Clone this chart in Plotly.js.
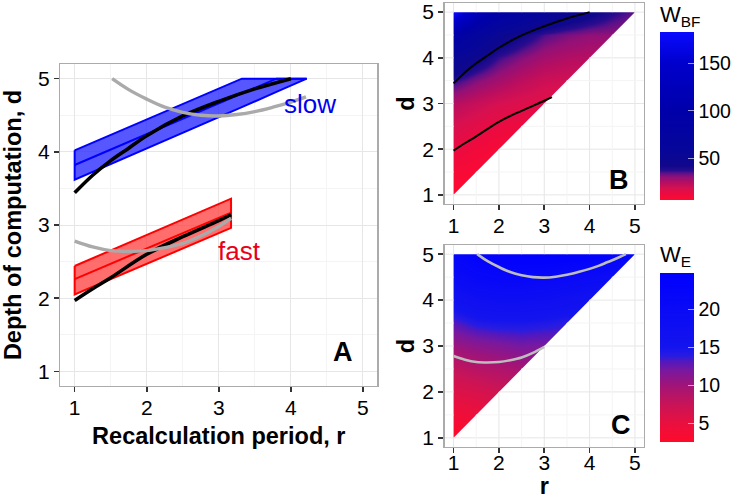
<!DOCTYPE html>
<html><head><meta charset="utf-8">
<script src="https://cdn.plot.ly/plotly-3.0.1.min.js"></script>
<style>html,body{margin:0;padding:0;background:#fff}</style>
</head><body><div id="chart" style="width:737px;height:500px"></div>
<script>
// ---------- data ----------
const majorTicks = [1, 2, 3, 4, 5];
const minorTicks = [1.5, 2.5, 3.5, 4.5];

// Panel A: bands (parameter ranges) for slow and fast
const slowBandR = [1, 3.32, 3.8, 4.22];
const slowBandUpper = [4.02, 5, 5, 5];
const slowBandLower = [3.62, 4.61, 4.82, 5];
const slowBandMid = [3.82, 4.80, 5, 5];
const fastBandR = [1, 3.17];
const fastBandUpper = [2.44, 3.36];
const fastBandLower = [2.05, 2.96];
const fastBandMid = [2.26, 3.17];

// optimal depth (black) and efficiency optimum (gray)
const optSlowR = [1, 1.25, 1.5, 1.75, 2, 2.5, 3, 3.5, 4];
const optSlowD = [3.44, 3.68, 3.88, 4.05, 4.22, 4.49, 4.69, 4.86, 5.0];
const optFastR = [1, 1.25, 1.5, 2, 2.5, 3, 3.17];
const optFastD = [1.97, 2.13, 2.28, 2.6, 2.84, 3.06, 3.14];
const effSlowR = [1.52, 1.75, 2, 2.25, 2.5, 2.75, 3, 3.25, 3.5, 3.75, 4, 4.21, 4.4, 4.6, 4.8];
const effSlowD = [5.0, 4.85, 4.72, 4.61, 4.54, 4.5, 4.49, 4.51, 4.55, 4.61, 4.68, 4.75, 4.83, 4.91, 5.0];
const effFastR = [1, 1.25, 1.5, 1.75, 2, 2.25, 2.5, 2.75, 3, 3.17];
const effFastD = [2.78, 2.7, 2.65, 2.64, 2.65, 2.69, 2.75, 2.85, 2.98, 3.09];

// Panels B and C: grids (rows = d, columns = r)
const gridR = [1, 1.5, 2, 2.5, 3, 3.5, 4, 4.5, 5];
const gridD = [1, 1.5, 2, 2.5, 3, 3.5, 4, 4.5, 5];
const wBF = [
  [6, 5.8, 5.6, 5.4, 5.2, 5, 5, 5, 5],
  [9, 8, 7.5, 7, 6.8, 6.5, 6.3, 6.1, 6],
  [13, 11, 9, 8.5, 8, 7.6, 7.3, 7, 6.8],
  [18, 15, 13, 12, 11, 10.5, 10, 9.5, 9],
  [24, 21, 18, 16.5, 15, 14, 13.5, 13, 12.5],
  [37, 31, 27, 23, 20, 19, 18, 17, 16],
  [55, 45, 36, 31, 27, 25, 24, 23, 22],
  [95, 68, 50, 42, 35, 32, 30, 30, 29],
  [183, 125, 95, 75, 60, 52, 45, 38, 34]
];
const wE = [
  [2.5, 2.7, 3.0, 3.3, 3.6, 3.9, 4.2, 4.5, 4.8],
  [4.0, 4.5, 4.9, 5.3, 5.6, 5.9, 6.2, 6.5, 6.8],
  [5.8, 6.3, 7.0, 7.4, 7.8, 8.2, 8.6, 9.0, 9.3],
  [7.8, 8.5, 9.0, 9.5, 10.0, 10.4, 10.8, 11.2, 11.5],
  [10.2, 11.0, 11.5, 12.0, 11.8, 12.2, 12.6, 13.0, 13.3],
  [13.0, 14.2, 14.6, 14.6, 14.3, 13.8, 14.5, 15.0, 15.5],
  [16.0, 17.5, 18.0, 18.0, 17.7, 17.0, 16.0, 16.5, 17.0],
  [19.5, 21.0, 21.5, 21.5, 21.0, 20.5, 19.8, 19.0, 19.5],
  [22.0, 23.5, 24.3, 24.6, 24.8, 24.5, 24.0, 23.3, 22.5]
];
const wbfTicks = [50, 100, 150];
const weTicks = [5, 10, 15, 20];

// ---------- styling ----------
const FONT = 'Liberation Sans, Arial, sans-serif';
const AX_RANGE = [0.8, 5.2];
const GRID_MAJOR = '#e6e6e6';
const GRID_MINOR = '#f4f4f4';
const BORDER = '#ababab';
const TICK_SIZE = 21;

const scaleBF = [
  [0, '#ff0a30'], [0.034, '#ee0a3e'], [0.068, '#d81050'], [0.102, '#b80e60'],
  [0.136, '#921078'], [0.158, '#601088'], [0.175, '#2a0c8e'], [0.203, '#10088c'],
  [0.305, '#06069a'], [0.531, '#0000aa'], [0.814, '#0000cc'], [1, '#0a0aff']
];
const scaleE = [
  [0, '#ff0a2a'], [0.112, '#e8103f'], [0.224, '#c81458'], [0.336, '#a01478'],
  [0.426, '#7818a0'], [0.48, '#5018c0'], [0.507, '#2a1ce0'], [0.56, '#1414ee'],
  [0.785, '#0a0af6'], [1, '#0000ff']
];

function polygon(r, upper, lower) {
  return { x: r.concat(r.slice().reverse()).concat([r[0]]),
           y: upper.concat(lower.slice().reverse()).concat([upper[0]]) };
}

function axisCommon(extra) {
  return Object.assign({
    range: AX_RANGE, tickvals: majorTicks, ticks: 'outside', ticklen: 5, tickwidth: 1.6,
    tickcolor: '#333', showline: true, mirror: true, linecolor: BORDER, linewidth: 1.3,
    showgrid: true, gridcolor: GRID_MAJOR, gridwidth: 1, zeroline: false,
    minor: { tickvals: minorTicks, showgrid: true, gridcolor: GRID_MINOR, gridwidth: 1, ticks: '' },
    tickfont: { family: FONT, size: TICK_SIZE, color: '#000' }, fixedrange: true
  }, extra);
}

// mask of the region outside the d >= r triangle, plus gridlines redrawn there
function maskTraces(xa, ya) {
  const lo = AX_RANGE[0] - 0.1, hi = AX_RANGE[1] + 0.1;
  const r0 = gridR[0], r1 = gridR[gridR.length - 1];
  const d0 = gridD[0], d1 = gridD[gridD.length - 1];
  const base = { type: 'scatter', mode: 'lines', fill: 'toself', fillcolor: '#ffffff',
                 line: { width: 0, color: 'rgba(0,0,0,0)' }, hoverinfo: 'skip', showlegend: false,
                 xaxis: xa, yaxis: ya };
  const p1 = Object.assign({}, base, { x: [lo, r0, r0, hi, hi, lo, lo], y: [lo, lo, d1, d1, hi, hi, lo] });
  const p2 = Object.assign({}, base, { x: [lo, hi, hi, r1, r0, lo, lo], y: [lo, lo, hi, d1, d0, d0, lo] });
  const out = [p1, p2];
  [[majorTicks, GRID_MAJOR], [minorTicks, GRID_MINOR]].forEach(([vals, col]) => {
    const xs = [], ys = [];
    vals.forEach(c => {
      xs.push(c, c, null, c, c, null, c, AX_RANGE[1], null, AX_RANGE[0], r0, null);
      ys.push(AX_RANGE[0], c, null, d1, AX_RANGE[1], null, c, c, null, c, c, null);
    });
    out.push({ type: 'scatter', mode: 'lines', x: xs, y: ys, line: { color: col, width: 1 },
               hoverinfo: 'skip', showlegend: false, xaxis: xa, yaxis: ya, connectgaps: false });
  });
  return out;
}

function colorbar(yCenter, len, vals) {
  return { x: 668 / 737, xanchor: 'left', y: yCenter, yanchor: 'middle', len: len,
    thickness: 34, outlinewidth: 0, tickvals: vals, ticks: 'inside', ticklen: 6,
    tickcolor: 'rgba(255,255,255,0.6)', tickfont: { family: FONT, size: 19.5, color: '#000' },
    xpad: 0, ypad: 0 };
}

const slowPoly = polygon(slowBandR, slowBandUpper, slowBandLower);
const fastPoly = polygon(fastBandR, fastBandUpper, fastBandLower);

const traces = [
  { type: 'scatter', mode: 'lines', x: slowPoly.x, y: slowPoly.y, fill: 'toself',
    fillcolor: 'rgba(40,40,255,0.78)', line: { color: '#0000ff', width: 2 } },
  { type: 'scatter', mode: 'lines', x: slowBandR, y: slowBandMid, line: { color: '#0000ff', width: 2 } },
  { type: 'scatter', mode: 'lines', x: fastPoly.x, y: fastPoly.y, fill: 'toself',
    fillcolor: 'rgba(255,60,60,0.75)', line: { color: '#ff0000', width: 2 } },
  { type: 'scatter', mode: 'lines', x: fastBandR, y: fastBandMid, line: { color: '#ff0000', width: 2 } },
  { type: 'scatter', mode: 'lines', x: optSlowR, y: optSlowD, line: { color: '#000', width: 3.6, shape: 'spline' } },
  { type: 'scatter', mode: 'lines', x: optFastR, y: optFastD, line: { color: '#000', width: 3.6, shape: 'spline' } },
  { type: 'scatter', mode: 'lines', x: effSlowR.slice(0, 12), y: effSlowD.slice(0, 12), line: { color: '#aaaaaa', width: 3.4, shape: 'spline' } },
  { type: 'scatter', mode: 'lines', x: effFastR, y: effFastD, line: { color: '#aaaaaa', width: 3.4, shape: 'spline' } },

  // Panel B
  { type: 'heatmap', x: gridR, y: gridD, z: wBF, zsmooth: 'best', xaxis: 'x2', yaxis: 'y2',
    zmin: 6, zmax: 183, colorscale: scaleBF, hoverinfo: 'skip',
    colorbar: colorbar(1 - 116 / 500, 168 / 500, wbfTicks) },
  ...maskTraces('x2', 'y2'),
  { type: 'scatter', mode: 'lines', x: optSlowR, y: optSlowD, xaxis: 'x2', yaxis: 'y2', line: { color: '#000', width: 2, shape: 'spline' } },
  { type: 'scatter', mode: 'lines', x: optFastR, y: optFastD, xaxis: 'x2', yaxis: 'y2', line: { color: '#000', width: 2, shape: 'spline' } },

  // Panel C
  { type: 'heatmap', x: gridR, y: gridD, z: wE, zsmooth: 'best', xaxis: 'x3', yaxis: 'y3',
    zmin: 2.5, zmax: 24.8, colorscale: scaleE, hoverinfo: 'skip',
    colorbar: colorbar(1 - 357.5 / 500, 169 / 500, weTicks) },
  ...maskTraces('x3', 'y3'),
  { type: 'scatter', mode: 'lines', x: effSlowR, y: effSlowD, xaxis: 'x3', yaxis: 'y3', line: { color: '#bdbdbd', width: 2.6, shape: 'spline' } },
  { type: 'scatter', mode: 'lines', x: effFastR.slice(0, 9), y: effFastD.slice(0, 9), xaxis: 'x3', yaxis: 'y3', line: { color: '#bdbdbd', width: 2.6, shape: 'spline' } }
];
traces.forEach(t => { if (t.showlegend === undefined) t.showlegend = false; if (!t.hoverinfo) t.hoverinfo = 'skip'; });

const titleFont = { family: FONT, size: 23.5, color: '#000' };
const layout = {
  width: 737, height: 500, margin: { l: 0, r: 0, t: 0, b: 0 },
  paper_bgcolor: '#fff', plot_bgcolor: '#fff', hovermode: false, showlegend: false,
  xaxis: axisCommon({ domain: [61 / 737, 382 / 737], anchor: 'y', ticklabelstandoff: -3,
    title: { text: '<b>Recalculation period, r</b>', font: titleFont, standoff: 10 } }),
  yaxis: axisCommon({ domain: [1 - 386 / 500, 1 - 64 / 500], anchor: 'x',
    title: { text: '<b>Depth of computation, d</b>', font: titleFont, standoff: 12 } }),
  xaxis2: axisCommon({ domain: [450 / 737, 652 / 737], anchor: 'y2', ticklabelstandoff: -3 }),
  yaxis2: axisCommon({ domain: [1 - 204 / 500, 1 - 3 / 500], anchor: 'x2',
    title: { text: '<b>d</b>', font: titleFont, standoff: 1 } }),
  xaxis3: axisCommon({ domain: [450 / 737, 652 / 737], anchor: 'y3', ticklabelstandoff: -9,
    title: { text: '<b>r</b>', font: titleFont, standoff: 5 } }),
  yaxis3: axisCommon({ domain: [1 - 447 / 500, 1 - 245 / 500], anchor: 'x3',
    title: { text: '<b>d</b>', font: titleFont, standoff: 1 } }),
  annotations: [
    { xref: 'x', yref: 'y', x: 4.27, y: 4.65, text: 'slow', showarrow: false, font: { family: FONT, size: 26, color: '#0000f0' } },
    { xref: 'x', yref: 'y', x: 3.29, y: 2.64, text: 'fast', showarrow: false, font: { family: FONT, size: 26, color: '#e8001a' } },
    { xref: 'x', yref: 'y', x: 4.72, y: 1.26, text: '<b>A</b>', showarrow: false, font: { family: FONT, size: 27, color: '#000' } },
    { xref: 'x2', yref: 'y2', x: 4.64, y: 1.32, text: '<b>B</b>', showarrow: false, font: { family: FONT, size: 27, color: '#000' } },
    { xref: 'x3', yref: 'y3', x: 4.69, y: 1.27, text: '<b>C</b>', showarrow: false, font: { family: FONT, size: 27, color: '#000' } },
    { xref: 'paper', yref: 'paper', x: 666 / 737, y: 1 - 16 / 500, xanchor: 'left', yanchor: 'middle',
      text: 'W<sub>BF</sub>', showarrow: false, font: { family: FONT, size: 22, color: '#000' } },
    { xref: 'paper', yref: 'paper', x: 666 / 737, y: 1 - 256 / 500, xanchor: 'left', yanchor: 'middle',
      text: 'W<sub>E</sub>', showarrow: false, font: { family: FONT, size: 22, color: '#000' } }
  ]
};

Plotly.newPlot('chart', traces, layout, { staticPlot: true, displayModeBar: false });
</script></body></html>
